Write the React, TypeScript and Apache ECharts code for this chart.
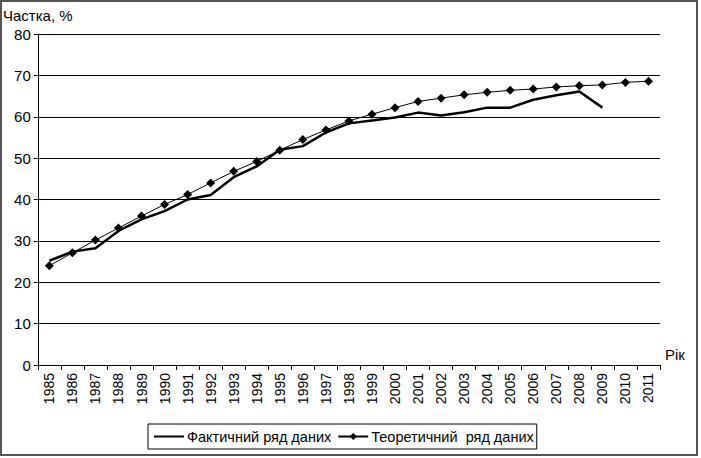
import React, { useEffect, useRef } from "react";
import * as echarts from "echarts";

const years = [
  "1985", "1986", "1987", "1988", "1989", "1990", "1991", "1992", "1993",
  "1994", "1995", "1996", "1997", "1998", "1999", "2000", "2001", "2002",
  "2003", "2004", "2005", "2006", "2007", "2008", "2009", "2010", "2011",
];

const actual = [
  25.2, 27.4, 28.2, 32.4, 35.2, 37.2, 40.0, 41.1, 45.4, 48.0, 52.0, 52.9,
  56.2, 58.4, 59.1, 59.8, 61.0, 60.3, 61.1, 62.2, 62.2, 64.1, 65.2, 66.1,
  62.2, null, null,
];

const theoretical = [
  24.0, 27.1, 30.2, 33.1, 36.0, 38.8, 41.2, 44.0, 46.8, 49.2, 51.9, 54.5,
  56.8, 59.0, 60.6, 62.2, 63.7, 64.5, 65.3, 65.9, 66.4, 66.7, 67.2, 67.5,
  67.7, 68.3, 68.6,
];

const yTicks = { min: 0, max: 80, interval: 10 };

const FONT = "'Liberation Sans', Arial, sans-serif";

export default function App() {
  const ref = useRef<HTMLDivElement>(null);

  useEffect(() => {
    document.body.style.margin = "0";
    const chart = echarts.init(ref.current!, null, { renderer: "svg" });
    chart.setOption({
      animation: false,
      backgroundColor: "#ffffff",
      textStyle: { fontFamily: FONT, color: "#000" },
      grid: { left: 36, right: 41, top: 34, bottom: 93, containLabel: false },
      xAxis: {
        type: "category",
        data: years,
        boundaryGap: true,
        axisLine: { lineStyle: { color: "#000", width: 1 } },
        axisTick: { show: true, interval: 0, length: 5, lineStyle: { color: "#000" } },
        axisLabel: {
          interval: 0,
          rotate: 90,
          fontSize: 14,
          color: "#000",
          fontFamily: FONT,
          margin: 8,
        },
        splitLine: { show: false },
      },
      yAxis: {
        type: "value",
        min: yTicks.min,
        max: yTicks.max,
        interval: yTicks.interval,
        name: "Частка, %",
        nameLocation: "end",
        nameGap: 11,
        nameTextStyle: { fontSize: 15, color: "#000", fontFamily: FONT, align: "center" },
        axisLine: { show: true, lineStyle: { color: "#000", width: 1 } },
        axisTick: { show: true, length: 4, lineStyle: { color: "#000" } },
        axisLabel: { fontSize: 15, color: "#000", fontFamily: FONT, margin: 7 },
        splitLine: { show: true, lineStyle: { color: "#000", width: 1 } },
      },
      legend: {
        left: 148,
        top: 424,
        itemGap: 6,
        itemWidth: 30,
        itemHeight: 9,
        padding: [5, 3, 5, 6],
        borderColor: "#000",
        borderWidth: 1,
        textStyle: { fontSize: 14.5, color: "#000", fontFamily: FONT, padding: [0, 0, 0, -2] },
        data: [
          { name: "Фактичний ряд даних", icon: "path://M0,4 L30,4 L30,6 L0,6 Z" },
          { name: "Теоретичний  ряд даних" },
        ],
      },
      series: [
        {
          name: "Фактичний ряд даних",
          type: "line",
          data: actual,
          symbol: "none",
          showSymbol: false,
          lineStyle: { color: "#000", width: 2.5 },
          itemStyle: { color: "#000" },
          connectNulls: false,
        },
        {
          name: "Теоретичний  ряд даних",
          type: "line",
          data: theoretical,
          symbol: "diamond",
          symbolSize: 9,
          lineStyle: { color: "#000", width: 1 },
          itemStyle: { color: "#000" },
        },
      ],
      graphic: [
        {
          type: "text",
          left: 665,
          top: 347,
          style: { text: "Рік", fontSize: 15, fill: "#000", fontFamily: FONT },
        },
        {
          type: "rect",
          shape: { x: 1, y: 1, width: 696, height: 454 },
          style: { fill: "none", stroke: "#555", lineWidth: 2 },
          silent: true,
        },
      ],
    });
    return () => chart.dispose();
  }, []);

  return (
    <div
      ref={ref}
      style={{ position: "fixed", left: 0, top: 0, width: 701, height: 458 }}
    />
  );
}
